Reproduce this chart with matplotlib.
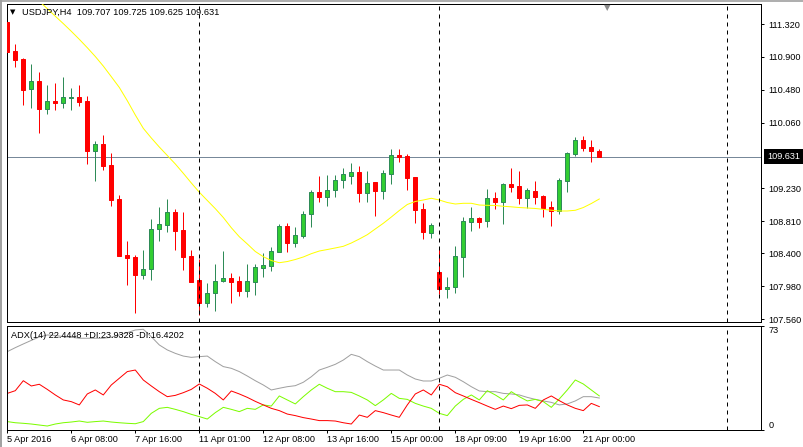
import numpy as np
import matplotlib
matplotlib.use('Agg')
import matplotlib.pyplot as plt
import matplotlib.transforms as mtransforms
from matplotlib.lines import Line2D

plt.rcParams['font.family'] = ['Liberation Sans', 'DejaVu Sans']

# USDJPY H4 candles, 5 Apr 2016 .. 21 Apr 2016 08:00
opens = [111.349, 110.976, 110.874, 110.488, 110.594, 110.241, 110.343, 110.310, 110.381, 110.390,
         110.339, 109.706, 109.791, 109.524, 109.091, 108.377, 108.352, 108.123, 108.195, 108.705,
         108.763, 108.925, 108.696, 108.365, 108.059, 107.770, 107.897, 108.042, 108.080, 108.046,
         107.923, 108.037, 108.216, 108.241, 108.419, 108.747, 108.526, 108.623, 108.896, 109.176,
         109.112, 109.201, 109.329, 109.387, 109.435, 109.163, 109.307, 109.196, 109.405, 109.651,
         109.638, 109.371, 108.963, 108.654, 108.161, 107.940, 107.966, 108.356, 108.802, 108.849,
         108.814, 109.103, 109.056, 109.282, 109.256, 109.107, 109.193, 109.129, 108.989, 108.942,
         109.324, 109.668, 109.838, 109.753, 109.707]
highs = [111.350, 111.065, 110.883, 110.810, 110.712, 110.543, 110.572, 110.645, 110.501, 110.543,
         110.403, 109.830, 109.906, 109.673, 109.142, 108.559, 108.377, 108.441, 108.836, 108.993,
         109.091, 108.959, 108.921, 108.441, 108.323, 108.017, 108.259, 108.428, 108.152, 108.110,
         108.259, 108.259, 108.399, 108.483, 108.772, 108.781, 108.738, 108.942, 109.205, 109.384,
         109.396, 109.396, 109.482, 109.549, 109.511, 109.444, 109.307, 109.460, 109.728, 109.728,
         109.664, 109.375, 109.044, 108.785, 108.454, 108.101, 108.492, 108.858, 108.989, 108.861,
         109.218, 109.180, 109.294, 109.486, 109.447, 109.231, 109.320, 109.142, 109.065, 109.354,
         109.693, 109.880, 109.893, 109.842, 109.725]
lows = [110.903, 110.776, 110.288, 110.254, 109.935, 110.177, 110.224, 110.254, 110.224, 110.275,
        109.537, 109.324, 109.460, 109.005, 108.360, 107.995, 107.642, 108.075, 108.059, 108.559,
        108.674, 108.441, 108.186, 108.030, 107.613, 107.711, 107.668, 108.037, 107.770, 107.855,
        107.846, 107.868, 108.093, 108.177, 108.412, 108.419, 108.483, 108.590, 108.738, 109.049,
        109.005, 109.120, 109.235, 109.278, 109.049, 109.056, 108.878, 109.091, 109.278, 109.562,
        109.205, 108.789, 108.581, 108.598, 107.877, 107.826, 107.897, 108.101, 108.687, 108.725,
        108.738, 108.963, 108.776, 109.180, 109.031, 108.980, 109.031, 108.865, 108.751, 108.903,
        109.184, 109.635, 109.706, 109.566, 109.625]
closes = [110.967, 110.861, 110.479, 110.594, 110.241, 110.339, 110.317, 110.386, 110.390, 110.330,
          109.706, 109.788, 109.515, 109.078, 108.365, 108.343, 108.123, 108.199, 108.709, 108.772,
          108.925, 108.687, 108.356, 108.037, 107.770, 107.889, 108.042, 108.080, 108.037, 107.923,
          108.046, 108.224, 108.246, 108.428, 108.747, 108.526, 108.628, 108.900, 109.176, 109.112,
          109.201, 109.329, 109.409, 109.435, 109.163, 109.295, 109.196, 109.422, 109.651, 109.630,
          109.362, 108.951, 108.666, 108.756, 107.940, 107.973, 108.365, 108.810, 108.849, 108.802,
          109.100, 109.056, 109.282, 109.247, 109.107, 109.201, 109.120, 108.980, 108.942, 109.333,
          109.673, 109.838, 109.744, 109.706, 109.631]

# moving average (yellow), first bars are above the visible range
ma = [np.nan, np.nan, np.nan, np.nan, 111.609, 111.515, 111.419, 111.325, 111.227, 111.125,
      111.018, 110.906, 110.784, 110.649, 110.512, 110.343, 110.161, 109.991, 109.868, 109.753,
      109.645, 109.537, 109.418, 109.295, 109.177, 109.072, 108.968, 108.855, 108.725, 108.610,
      108.518, 108.422, 108.356, 108.307, 108.279, 108.294, 108.320, 108.352, 108.394, 108.428,
      108.447, 108.467, 108.488, 108.530, 108.581, 108.636, 108.709, 108.781, 108.861, 108.944,
      109.021, 109.059, 109.078, 109.100, 109.078, 109.046, 109.027, 109.036, 109.036, 109.014,
      109.010, 109.008, 108.998, 108.991, 108.982, 108.976, 108.970, 108.959, 108.948, 108.938,
      108.938, 108.947, 108.982, 109.033, 109.091]

adx = [55.0, 57.8, 60.4, 62.9, 65.3, 66.7, 66.4, 65.5, 65.1, 64.4,
       64.4, 64.4, 64.4, 65.1, 66.7, 68.3, 70.2, 70.7, 65.5, 59.7,
       56.2, 53.8, 51.9, 51.0, 51.5, 51.9, 48.0, 44.5, 43.3, 41.0,
       37.9, 34.6, 31.6, 28.1, 29.3, 30.4, 31.1, 33.5, 37.4, 42.1,
       44.0, 46.1, 49.1, 53.1, 51.5, 48.0, 44.9, 42.1, 42.1, 42.1,
       38.6, 35.8, 34.4, 34.4, 36.3, 38.6, 37.0, 33.9, 30.4, 27.4,
       26.9, 26.9, 25.7, 25.3, 24.6, 22.9, 21.5, 20.4, 19.4, 17.6,
       18.3, 20.4, 23.4, 23.4, 22.4448]
plus_di = [5.9, 5.1, 4.7, 4.2, 3.5, 2.8, 4.2, 5.1, 5.6, 6.3,
           5.4, 5.9, 6.3, 5.6, 5.1, 4.7, 4.4, 5.9, 11.7, 15.2,
           15.9, 14.5, 12.9, 11.0, 9.4, 7.7, 12.2, 15.9, 14.5, 12.9,
           15.2, 14.5, 17.6, 16.8, 23.9, 21.1, 18.3, 23.4, 28.1, 32.1,
           29.3, 26.9, 26.9, 26.4, 23.9, 21.1, 17.1, 21.1, 25.7, 22.2,
           21.5, 18.7, 16.8, 15.2, 11.7, 10.1, 16.8, 21.5, 24.6, 21.1,
           27.6, 24.6, 21.1, 26.9, 23.4, 20.4, 21.5, 19.9, 15.9, 21.8,
           28.1, 35.1, 32.3, 28.1, 23.9328]
minus_di = [25.7, 27.6, 34.6, 30.9, 32.1, 28.5, 24.6, 21.1, 19.9, 17.6,
            25.3, 28.1, 24.6, 31.6, 36.3, 41.0, 42.1, 35.1, 30.9, 26.9,
            23.4, 24.3, 26.2, 28.5, 32.3, 29.3, 25.7, 21.1, 27.4, 25.3,
            22.9, 20.1, 17.6, 15.2, 13.6, 11.2, 10.1, 8.7, 7.7, 6.6,
            6.6, 6.3, 5.1, 4.2, 10.5, 8.9, 13.6, 12.2, 10.5, 8.9,
            17.6, 25.3, 28.1, 24.6, 32.1, 30.4, 26.2, 23.9, 21.5, 19.2,
            16.8, 14.5, 16.8, 15.0, 17.3, 17.6, 15.2, 21.1, 23.9, 20.6,
            17.6, 15.2, 13.6, 18.7, 16.4202]

date_pos = [0, 8, 16, 24, 32, 40, 48, 56, 64, 72]
date_labels = ['5 Apr 2016', '6 Apr 08:00', '7 Apr 16:00', '11 Apr 01:00', '12 Apr 08:00',
               '13 Apr 16:00', '15 Apr 00:00', '18 Apr 09:00', '19 Apr 16:00', '21 Apr 00:00']
price_ticks = [111.320, 110.900, 110.480, 110.060, 109.230, 108.810, 108.400, 107.980, 107.560]
week_lines = [24, 54, 90]
last_price = 109.631

W, H = 804, 447
fig = plt.figure(figsize=(W / 100, H / 100), dpi=100)
ax = fig.add_axes([7 / W, 1 - 322 / H, 754 / W, 318 / H])
ax2 = fig.add_axes([7 / W, 1 - 430 / H, 754 / W, 104 / H])

px = 0.72  # one pixel in points
x = np.arange(len(opens))
o = np.array(opens); c = np.array(closes); hi = np.array(highs); lo = np.array(lows)
up = c >= o
dn = ~up

bull_edge = '#2E8B57'
ax.vlines(x[up], lo[up], hi[up], color=bull_edge, lw=px, zorder=2)
ax.vlines(x[dn], lo[dn], hi[dn], color='#FF0000', lw=px, zorder=2)
body_lo = np.minimum(o, c)
body_h = np.maximum(np.abs(c - o), 0.012)
ax.bar(x[up], body_h[up], bottom=body_lo[up], width=0.52, color='#32CD32',
       edgecolor=bull_edge, linewidth=px, zorder=3)
ax.bar(x[dn], body_h[dn], bottom=body_lo[dn], width=0.52, color='#FF0000',
       edgecolor='#FF0000', linewidth=px, zorder=3)

ax.plot(x, ma, color='#FFFF00', lw=px, zorder=4)
ax.axhline(last_price, color='#778899', lw=px, zorder=1)

xmin = -0.0375
xmax = xmin + 754 / 8
for a in (ax, ax2):
    a.set_xlim(xmin, xmax)
    for v in week_lines:
        a.axvline(v, color='black', lw=px, ls=(0, (4, 4)), zorder=5)
    for s in a.spines.values():
        s.set_linewidth(px)
        s.set_color('black')

ax.set_ylim(111.32 - 298 / 78.5, 111.32 + 20 / 78.5)
ax.yaxis.tick_right()
ax.set_yticks(price_ticks)
ax.set_yticklabels(['%.3f' % p for p in price_ticks])
ax.tick_params(axis='y', direction='out', length=2.2, width=px, pad=3, labelsize=6.6)
ax.set_xticks([])

trans = mtransforms.blended_transform_factory(ax.transAxes, ax.transData)
ax.text(1 + 6 / 754, last_price, '%.3f' % last_price, transform=trans, color='white',
        fontsize=6.6, va='center', ha='left', clip_on=False,
        bbox=dict(boxstyle='square,pad=0.3', fc='black', ec='none'))

# indicator panel
ax2.plot(x, adx, color='#A0A0A0', lw=px)
ax2.plot(x, plus_di, color='#7CFC00', lw=px)
ax2.plot(x, minus_di, color='#FF0000', lw=px)
ax2.set_ylim(0, 73)
ax2.yaxis.tick_right()
ax2.set_yticks([0, 73])
ax2.set_yticklabels(['0', '73'])
ax2.tick_params(axis='y', direction='out', length=2.2, width=px, pad=3, labelsize=6.6)
labs = ax2.get_yticklabels()
labs[0].set_va('bottom')
labs[1].set_va('top')
ax2.set_xticks(date_pos)
ax2.set_xticklabels(date_labels)
ax2.tick_params(axis='x', direction='out', length=2.4, width=px, pad=1, labelsize=6.6)
for lab in ax2.get_xticklabels():
    lab.set_ha('left')

fig.text(11.5 / W, 1 - 335 / H, 'ADX(14) 22.4448 +DI:23.9328 -DI:16.4202', fontsize=6.6,
         va='center', ha='left')
fig.text(22.5 / W, 1 - 12.5 / H, 'USDJPY,H4  109.707 109.725 109.625 109.631', fontsize=6.7,
         va='center', ha='left')
fig.text(10 / W, 1 - 12.5 / H, '\u25bc', fontsize=5, va='center', ha='left', family='DejaVu Sans')
fig.text(604 / W, 1 - 7.5 / H, '\u25bc', fontsize=6, va='center', ha='left', color='#8C8C8C',
         family='DejaVu Sans')

# window frame
fig.add_artist(Line2D([1 / W, 1 / W], [0, 1], transform=fig.transFigure, color='#A0A0A0', lw=1.4))
fig.add_artist(Line2D([0, 1], [1 - 0.8 / H, 1 - 0.8 / H], transform=fig.transFigure,
                      color='#A0A0A0', lw=1.2))

fig.savefig('out.png', dpi=100)
